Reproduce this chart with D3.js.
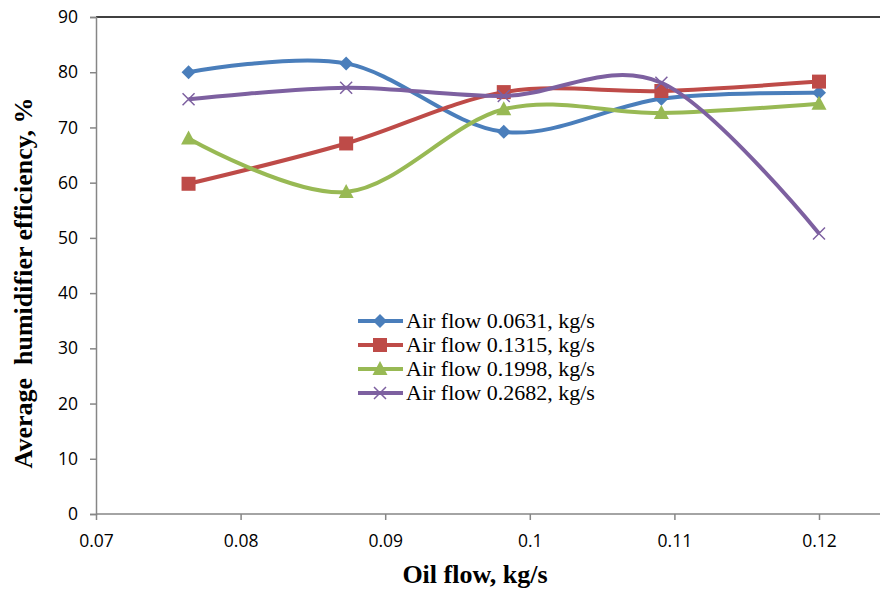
<!DOCTYPE html>
<head>
  <meta charset="utf-8">
  <script src="https://d3js.org/d3.v7.min.js"></script>
  <style>
    body { margin: 0; background: white; }
    .tick text { font-family: "Open Sans", "Liberation Sans", sans-serif; font-size: 17.5px; fill: #000; }
    .title { font-family: "Liberation Serif", serif; font-weight: bold; font-size: 26px; }
    .legend text { font-family: "Liberation Serif", serif; font-size: 22px; }
  </style>
</head>

<body>
  <svg width="880" height="590"></svg>

  <script>
    const oilFlow = [0.0764, 0.0873, 0.0982, 0.1091, 0.12];
    const seriesNames = ['Air flow 0.0631, kg/s', 'Air flow 0.1315, kg/s', 'Air flow 0.1998, kg/s', 'Air flow 0.2682, kg/s'];
    const air0631 = [80.0, 81.6, 69.2, 75.2, 76.3];
    const air1315 = [59.8, 67.1, 76.4, 76.6, 78.3];
    const air1998 = [68.0, 58.3, 73.3, 72.6, 74.3];
    const air2682 = [75.1, 77.2, 75.7, 78.1, 50.8];
    const xTicks = [0.07, 0.08, 0.09, 0.1, 0.11, 0.12];
    const yTicks = [0, 10, 20, 30, 40, 50, 60, 70, 80, 90];

    const colors = ['#4a7ebb', '#be4b48', '#98b954', '#7d60a0'];
    const shapes = ['diamond', 'square', 'triangle', 'cross'];
    const series = [air0631, air1315, air1998, air2682];

    const svg = d3.select('svg');
    const x = d3.scaleLinear().domain([0.07, 0.12]).range([96, 819]);
    const y = d3.scaleLinear().domain([0, 90]).range([514, 17]);

    // frame: top border only
    svg.append('line')
      .attr('x1', 96).attr('x2', 880).attr('y1', 17).attr('y2', 17)
      .attr('stroke', '#000').attr('stroke-width', 1.3);

    const xAxis = svg.append('g')
      .attr('transform', `translate(0,${y(0)})`)
      .call(d3.axisBottom(x).tickValues(xTicks).tickSize(6).tickPadding(15)
        .tickFormat(d => String(+d.toFixed(2))));
    xAxis.select('.domain').attr('d', `M96,0H880`);

    const yAxis = svg.append('g')
      .attr('transform', `translate(${x(0.07)},0)`)
      .call(d3.axisLeft(y).tickValues(yTicks).tickSize(6).tickPadding(12));

    svg.selectAll('.domain, .tick line').attr('stroke', '#868686').attr('stroke-width', 1.5);

    svg.append('text').attr('class', 'title')
      .attr('x', 475).attr('y', 583).attr('text-anchor', 'middle')
      .text('Oil flow, kg/s');
    svg.append('text').attr('class', 'title')
      .attr('transform', 'translate(32,283) rotate(-90)')
      .attr('text-anchor', 'middle')
      .attr('xml:space', 'preserve')
      .text('Average  humidifier efficiency, %');

    const line = d3.line()
      .x(d => x(d[0])).y(d => y(d[1]))
      .curve(d3.curveCardinal.tension(0));

    const marker = (g, shape, color) => {
      if (shape === 'diamond') {
        g.append('path').attr('d', 'M0,-7L7,0L0,7L-7,0Z').attr('fill', color);
      } else if (shape === 'square') {
        g.append('rect').attr('x', -7).attr('y', -7).attr('width', 14).attr('height', 14).attr('fill', color);
      } else if (shape === 'triangle') {
        g.append('path').attr('d', 'M0,-8L7.5,6L-7.5,6Z').attr('fill', color);
      } else {
        g.append('path').attr('d', 'M-6,-6L6,6M-6,6L6,-6')
          .attr('stroke', color).attr('stroke-width', 1.5).attr('fill', 'none');
      }
    };

    series.forEach((vals, i) => {
      const pts = oilFlow.map((f, j) => [f, vals[j]]);
      svg.append('path').datum(pts)
        .attr('d', line)
        .attr('fill', 'none')
        .attr('stroke', colors[i])
        .attr('stroke-width', 4);
      pts.forEach(p => {
        const g = svg.append('g').attr('transform', `translate(${x(p[0])},${y(p[1])})`);
        marker(g, shapes[i], colors[i]);
      });
    });

    const legend = svg.append('g').attr('class', 'legend');
    seriesNames.forEach((name, i) => {
      const ly = 321 + i * 24;
      const g = legend.append('g');
      g.append('line').attr('x1', 358).attr('x2', 403).attr('y1', ly).attr('y2', ly)
        .attr('stroke', colors[i]).attr('stroke-width', 4);
      marker(g.append('g').attr('transform', `translate(380,${ly})`), shapes[i], colors[i]);
      g.append('text').attr('x', 406).attr('y', ly + 7).text(name);
    });
  </script>
</body>
